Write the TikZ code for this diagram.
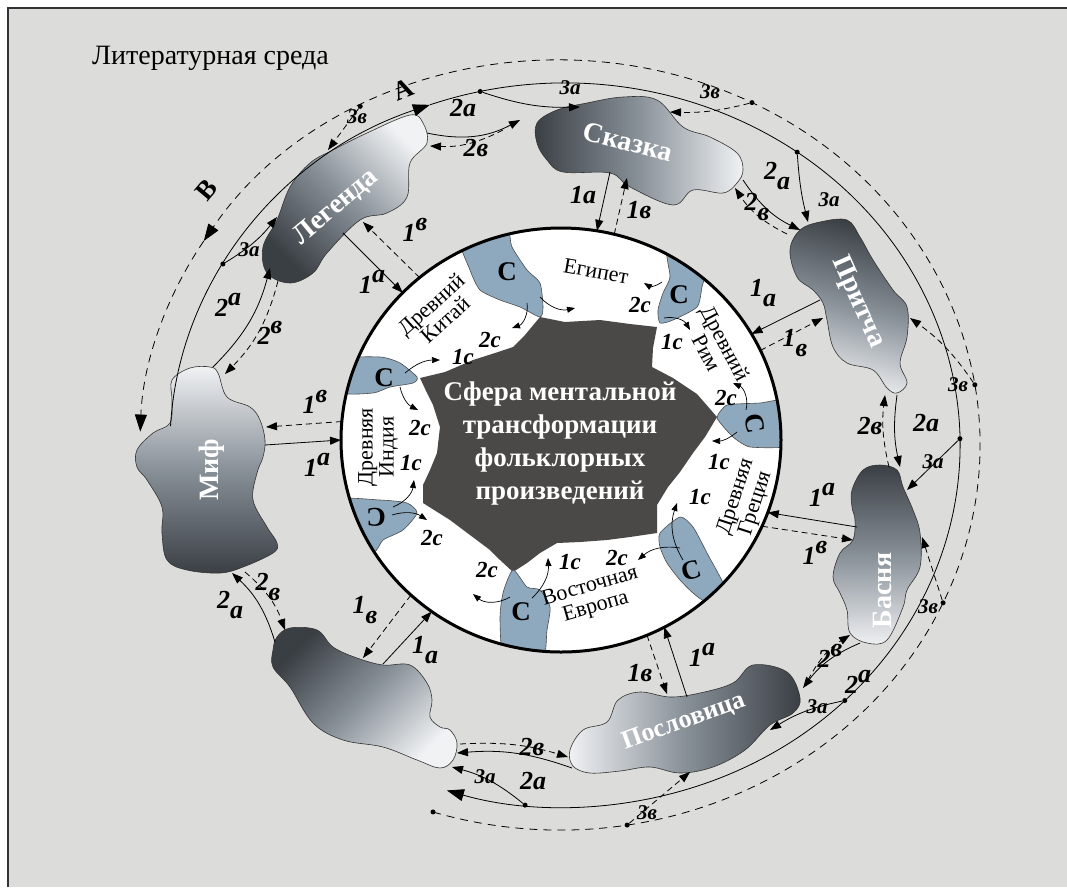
\documentclass[tikz,border=0pt]{standalone}
\usepackage{fontspec}
\setmainfont{Liberation Serif}
\usetikzlibrary{arrows.meta, calc}
\definecolor{envG}{RGB}{220,220,218}
\definecolor{cellB}{RGB}{142,168,190}
\definecolor{coreD}{RGB}{74,73,72}
\definecolor{blobD}{RGB}{58,63,68}
\definecolor{blobM}{RGB}{136,144,152}
\definecolor{blobL}{RGB}{240,242,244}
\newcommand{\lup}[2]{#1\raisebox{0.45em}{#2}}
\newcommand{\ldn}[2]{#1\raisebox{-0.4em}{#2}}
\tikzset{
  sol/.style={line width=0.8pt, -{Triangle[length=11pt,width=8pt]}},
  dsh/.style={sol, dash pattern=on 6pt off 4pt},
  big/.style={line width=0.8pt, -{Triangle[length=17pt,width=12pt]}},
  carrow/.style={line width=0.7pt, -{Triangle[length=8pt,width=6pt]}},
  lbl/.style={font=\fontsize{26}{26}\selectfont\bfseries\itshape, inner sep=0pt},
  sml/.style={font=\fontsize{21}{21}\selectfont\bfseries\itshape, inner sep=0pt},
  clbl/.style={font=\fontsize{23}{23}\selectfont\bfseries\itshape, inner sep=0pt},
  blobtxt/.style={font=\fontsize{28}{28}\selectfont\bfseries, text=white, inner sep=0pt},
  ringtxt/.style={font=\fontsize{22}{21}\selectfont, align=center, inner sep=0pt},
  ctxt/.style={font=\fontsize{27}{27}\selectfont\bfseries, inner sep=0pt},
  cell/.style={fill=cellB, draw=black!70, line width=0.6pt},
  blob/.style={draw=black!80, line width=0.6pt},
  dotp/.style={circle, fill=black, inner sep=0pt, minimum size=5pt},
}

\begin{document}
\begin{tikzpicture}[x=1pt, y=-1pt]
% page: the literary environment
\useasboundingbox (0,0) rectangle (1067,887);
\fill[envG] (8,8) rectangle (1067,887);
\draw[line width=1.6pt, black!80] (8,887) -- (8,8) -- (1067,8);
\node[font=\fontsize{28}{28}\selectfont, anchor=west, inner sep=0pt] (env) at (92,58) {Литературная среда};

% the sphere: white ring, cells C and the dark core
\begin{scope}
\clip (561,440) ellipse [x radius=220, y radius=212];
\fill[white] (561,440) ellipse [x radius=220, y radius=212];
\fill[coreD] (540,317) -- (565,322) -- (600,320) -- (630,324) -- (657,327) -- (653,348) -- (652,367)
  -- (673,378) -- (697,394) -- (717,417) -- (705,437) -- (693,453) -- (680,472) -- (668,487) -- (657,505)
  -- (657,533) -- (630,537) -- (607,540) -- (580,542) -- (557,543) -- (540,553) -- (527,563) -- (513,572)
  -- (500,560) -- (490,550) -- (470,535) -- (450,520) -- (423,503) -- (423,485) -- (430,470) -- (437,453)
  -- (440,427) -- (433,405) -- (427,393) -- (420,378) -- (445,372) -- (473,360) -- (495,353) -- (513,347)
  -- (525,335) -- cycle;
\filldraw[cell] plot[smooth cycle, tension=0.4] coordinates {(460,236) (505,226) (512,247) (527,270) (540,283) (543,307) (540,317) (520,307) (500,300) (480,290) (470,270)};
\filldraw[cell] plot[smooth cycle, tension=0.4] coordinates {(668,248) (708,255) (702,287) (697,307) (673,320) (660,323) (658,310) (663,293) (670,277)};
\filldraw[cell] plot[smooth cycle, tension=0.3] coordinates {(717,418) (727,405) (760,403) (792,400) (792,445) (750,447) (733,437)};
\filldraw[cell] plot[smooth cycle, tension=0.4] coordinates {(660,533) (680,517) (693,527) (707,553) (728,595) (707,602) (693,593) (680,580) (667,563) (660,547)};
\filldraw[cell] plot[smooth cycle, tension=0.4] coordinates {(513,570) (527,587) (540,590) (550,607) (547,630) (542,662) (505,662) (500,620) (503,593)};
\filldraw[cell] plot[smooth cycle, tension=0.4] coordinates {(336,500) (380,500) (407,503) (417,513) (403,530) (383,540) (373,552) (340,535)};
\filldraw[cell] plot[smooth cycle, tension=0.4] coordinates {(340,360) (380,357) (400,363) (417,377) (413,383) (390,387) (373,393) (340,392)};
\end{scope}
\draw[line width=3pt] (561,440) ellipse [x radius=220, y radius=212];

% cell letters and regions of the ring
\node[ctxt] (c1) at (507,272) {C};
\node[ctxt] (c2) at (679,295) {C};
\node[ctxt, rotate=-80] (c3) at (755,424) {C};
\node[ctxt, rotate=15] (c4) at (691,570) {C};
\node[ctxt] (c5) at (521,612) {C};
\node[ctxt, rotate=180] (c6) at (376,517) {C};
\node[ctxt] (c7) at (384,378) {C};
\node[ringtxt, rotate=-10] (egy) at (596,271) {Египет};
\node[ringtxt, rotate=42] (chn) at (438,312) {Древний\\Китай};
\node[ringtxt, rotate=-62] (rim) at (716,348) {Древний\\Рим};
\node[ringtxt, rotate=72] (grc) at (746,500) {Древняя\\Греция};
\node[ringtxt, rotate=16] (eur) at (593,597) {Восточная\\Европа};
\node[ringtxt, rotate=90] (ind) at (378,447) {Древняя\\Индия};
\node[ctxt, text=white, align=center, font=\fontsize{27}{33}\selectfont\bfseries] (core) at (560,443)
  {Сфера ментальной\\трансформации\\фольклорных\\произведений};

% small exchange arrows 1c / 2c inside the ring
\draw[carrow] (540,297) to[bend right=30] (575,308);
\draw[carrow] (527,303) to[bend left=40] (512,328);
\node[clbl] (k2) at (490,340) {2с};
\draw[carrow] (405,373) to[bend left=20] (440,360);
\node[clbl] (k3) at (463,357) {1с};
\draw[carrow] (400,387) to[bend right=25] (418,410);
\node[clbl] (k4) at (420,428) {2с};
\draw[carrow] (393,507) to[bend right=30] (414,480);
\node[clbl] (k5) at (411,463) {1с};
\draw[carrow] (392,515) to[bend left=25] (427,520);
\node[clbl] (k6) at (432,538) {2с};
\draw[carrow] (532,598) to[bend right=25] (548,558);
\node[clbl] (k7) at (570,562) {1с};
\draw[carrow] (510,597) to[bend left=35] (473,594);
\node[clbl] (k8) at (487,570) {2с};
\draw[carrow] (683,560) to[bend left=25] (677,503);
\node[clbl] (k9) at (700,497) {1с};
\draw[carrow] (680,548) to[bend right=25] (638,560);
\node[clbl] (k10) at (617,558) {2с};
\draw[carrow] (737,432) to[bend left=20] (712,441);
\node[clbl] (k11) at (719,462) {1с};
\draw[carrow] (746,410) to[bend right=40] (733,383);
\node[clbl] (k12) at (726,398) {2с};
\draw[carrow] (664,318) to[bend left=35] (690,330);
\node[clbl] (k13) at (672,342) {1с};
\draw[carrow] (662,282) to[bend left=35] (644,283);
\node[clbl] (k14) at (640,305) {2с};

% folklore genres
\shadedraw[blob, top color=blobL, bottom color=blobD, middle color=blobM, shading angle=-45]
  plot[smooth cycle, tension=0.6] coordinates {(333,150) (367,133) (410,115) (423,123) (427,143) (410,163) (407,197) (387,213) (360,220) (327,253) (313,273) (290,283) (267,273) (263,247) (277,220) (290,187) (310,163)};
\shadedraw[blob, left color=blobD, right color=blobL, middle color=blobM]
  plot[smooth cycle, tension=0.6] coordinates {(537,123) (557,110) (587,103) (623,97) (657,100) (683,127) (710,137) (737,153) (743,170) (737,183) (723,193) (693,190) (673,205) (630,187) (610,173) (563,172) (547,160) (537,143)};
\shadedraw[blob, top color=blobD, bottom color=blobL, middle color=blobM, shading angle=-15]
  plot[smooth cycle, tension=0.6] coordinates {(790,250) (800,230) (820,222) (847,220) (860,237) (873,260) (893,290) (907,307) (907,337) (900,363) (907,383) (897,393) (887,388) (873,370) (847,363) (833,347) (827,320) (823,303) (813,290) (797,277)};
\shadedraw[blob, top color=blobD, bottom color=blobL, middle color=blobM]
  plot[smooth cycle, tension=0.6] coordinates {(852,490) (863,470) (880,465) (897,470) (903,487) (913,510) (920,533) (920,567) (907,590) (903,607) (887,640) (867,643) (850,633) (847,610) (840,593) (833,577) (840,553) (853,540) (855,520) (852,507)};
\shadedraw[blob, left color=blobL, right color=blobD, middle color=blobM]
  plot[smooth cycle, tension=0.6] coordinates {(570,750) (583,730) (607,722) (618,700) (640,692) (670,697) (700,693) (733,683) (753,665) (787,672) (800,698) (793,713) (770,725) (745,750) (713,767) (680,773) (650,767) (620,771) (590,773) (573,766)};
\shadedraw[blob, top color=blobD, bottom color=blobL, middle color=blobM, shading angle=45]
  plot[smooth cycle, tension=0.6] coordinates {(277,637) (290,628) (317,630) (333,647) (357,658) (383,665) (410,665) (427,683) (432,700) (430,717) (440,727) (450,730) (457,743) (453,760) (440,768) (417,760) (383,747) (343,740) (313,723) (290,687) (273,667) (273,650)};
\shadedraw[blob, top color=blobL, bottom color=blobD, middle color=blobM]
  plot[smooth cycle, tension=0.6] coordinates {(172,380) (190,368) (210,367) (218,373) (227,397) (250,407) (260,420) (265,440) (263,457) (257,473) (253,500) (267,527) (277,543) (273,553) (243,567) (220,573) (187,570) (167,560) (162,533) (162,507) (147,480) (137,467) (137,450) (153,433) (170,423) (172,400)};
\node[blobtxt, rotate=40] (legT) at (336,207) {Легенда};
\node[blobtxt, rotate=-14] (skzT) at (628,142) {Сказка};
\node[blobtxt, rotate=-66] (prtT) at (858,302) {Притча};
\node[blobtxt, rotate=90] (basT) at (882,590) {Басня};
\node[blobtxt, rotate=20, font=\fontsize{26}{26}\selectfont\bfseries] (posT) at (684,722) {Пословица};
\node[blobtxt, rotate=90] (mifT) at (212,470) {Миф};

% outer cycles: A (solid) and B (dashed)
\draw[big] ([shift={(565,445)}]-177:395 and 362) arc[start angle=-177, end angle=-110, x radius=395, y radius=362] coordinate (arcA);
\draw[big] (arcA) arc[start angle=-110, end angle=107.4, x radius=395, y radius=362];
\draw[big, dash pattern=on 8pt off 6pt] ([shift={(560,445)}]107.6:420 and 385) arc[start angle=107.6, end angle=-148, x radius=420, y radius=385] coordinate (arcB);
\draw[big, dash pattern=on 8pt off 6pt] (arcB) arc[start angle=-148, end angle=-178, x radius=420, y radius=385];
\node[font=\fontsize{27}{27}\selectfont\bfseries, rotate=22] (cycA) at (403,90) {А};
\node[font=\fontsize{27}{27}\selectfont\bfseries, rotate=50] (cycB) at (207,190) {В};

% dots where the 3a / 3в links leave the cycles
\node[dotp] (d3aL) at ([shift={(565,445)}]-150:395 and 362) {};
\node[dotp] (d3aS) at ([shift={(565,445)}]-102.4:395 and 362) {};
\node[dotp] (d3aP) at ([shift={(565,445)}]-54:395 and 362) {};
\node[dotp] (d3aB) at ([shift={(565,445)}]-1:395 and 362) {};
\node[dotp] (d3aPs) at ([shift={(565,445)}]44.9:395 and 362) {};
\node[dotp] (d3aN) at ([shift={(565,445)}]95.8:395 and 362) {};
\node[dotp] (dB0) at ([shift={(560,445)}]107.6:420 and 385) {};
\node[dotp] (d3vL) at ([shift={(560,445)}]-118.4:420 and 385) {};
\node[dotp] (d3vS) at ([shift={(560,445)}]-62.8:420 and 385) {};
\node[dotp] (d3vP) at ([shift={(560,445)}]-9:420 and 385) {};
\node[dotp] (d3vB) at ([shift={(560,445)}]24.2:420 and 385) {};
\node[dotp] (d3vPs) at ([shift={(560,445)}]80.8:420 and 385) {};

% link ends on the genres
\coordinate (leg1a) at (343,233); \coordinate (leg1v) at (363,222);
\coordinate (skz1a) at (610,172); \coordinate (skz1v) at (627,178);
\coordinate (prt1a) at (820,300); \coordinate (prt1v) at (823,318);
\coordinate (bas1a) at (857,527); \coordinate (bas1v) at (853,540);
\coordinate (pos1a) at (687,697); \coordinate (pos1v) at (667,694);
\coordinate (non1a) at (383,664); \coordinate (non1v) at (363,658);
\coordinate (mif1a) at (265,445); \coordinate (mif1v) at (266,427);
% link ends on the ring
\coordinate (rg1aL) at ([shift={(561,440)}]-136:220 and 212); \coordinate (rg1vL) at ([shift={(561,440)}]-130:220 and 212);
\coordinate (rg1aS) at ([shift={(561,440)}]-80.6:220 and 212); \coordinate (rg1vS) at ([shift={(561,440)}]-76:220 and 212);
\coordinate (rg1aP) at ([shift={(561,440)}]-30:220 and 212); \coordinate (rg1vP) at ([shift={(561,440)}]-25:220 and 212);
\coordinate (rg1aB) at ([shift={(561,440)}]20:220 and 212); \coordinate (rg1vB) at ([shift={(561,440)}]24:220 and 212);
\coordinate (rg1aPs) at ([shift={(561,440)}]62:220 and 212); \coordinate (rg1vPs) at ([shift={(561,440)}]67:220 and 212);
\coordinate (rg1aN) at ([shift={(561,440)}]126:220 and 212); \coordinate (rg1vN) at ([shift={(561,440)}]133:220 and 212);
\coordinate (rg1aM) at ([shift={(561,440)}]180:220 and 212); \coordinate (rg1vM) at ([shift={(561,440)}]-175:220 and 212);

% 1a / 1в: genre and sphere
\draw[sol] (leg1a) -- (rg1aL);  \draw[dsh] (rg1vL) -- (leg1v);
\draw[sol] (skz1a) -- (rg1aS);  \draw[dsh] (rg1vS) -- (skz1v);
\draw[sol] (prt1a) -- (rg1aP);  \draw[dsh] (rg1vP) -- (prt1v);
\draw[sol] (bas1a) -- (rg1aB);  \draw[dsh] (rg1vB) -- (bas1v);
\draw[sol] (pos1a) -- (rg1aPs); \draw[dsh] (rg1vPs) -- (pos1v);
\draw[sol] (non1a) -- (rg1aN);  \draw[dsh] (rg1vN) -- (non1v);
\draw[sol] (mif1a) -- (rg1aM);  \draw[dsh] (rg1vM) -- (mif1v);
\node[lbl] (l1aL) at (372,282) {\lup{1}{а}};    \node[lbl] (l1vL) at (415,230) {\lup{1}{в}};
\node[lbl] (l1aS) at (583,195) {1а};            \node[lbl] (l1vS) at (639,210) {1в};
\node[lbl] (l1aP) at (763,293) {\ldn{1}{а}};    \node[lbl] (l1vP) at (795,343) {\ldn{1}{в}};
\node[lbl] (l1aB) at (822,495) {\lup{1}{а}};    \node[lbl] (l1vB) at (815,553) {\lup{1}{в}};
\node[lbl] (l1aPs) at (702,655) {\lup{1}{а}};   \node[lbl] (l1vPs) at (640,673) {1в};
\node[lbl] (l1vN) at (365,610) {\ldn{1}{в}};    \node[lbl] (l1aN) at (425,650) {\ldn{1}{а}};
\node[lbl] (l1vM) at (315,402) {\lup{1}{в}};    \node[lbl] (l1aM) at (317,465) {\lup{1}{а}};

% 2a / 2в: neighbouring genres
\coordinate (leg2a) at (427,133); \coordinate (skz2a) at (520,120);
\coordinate (skz2v) at (503,130); \coordinate (leg2v) at (430,146);
\draw[sol] (leg2a) to[bend right=20] (skz2a);
\draw[dsh] (skz2v) to[bend left=15] (leg2v);
\coordinate (skz2a') at (743,180); \coordinate (prt2a) at (800,230);
\coordinate (prt2v) at (787,234); \coordinate (skz2v') at (735,188);
\draw[sol] (skz2a') to[bend right=15] (prt2a);
\draw[dsh] (prt2v) to[bend left=15] (skz2v');
\coordinate (prt2a') at (897,395); \coordinate (bas2a) at (900,467);
\coordinate (bas2v) at (889,467); \coordinate (prt2v') at (885,395);
\draw[sol] (prt2a') to[bend right=10] (bas2a);
\draw[dsh] (bas2v) to[bend left=10] (prt2v');
\coordinate (bas2a') at (860,643); \coordinate (pos2a) at (803,688);
\coordinate (pos2v) at (808,680); \coordinate (bas2v') at (850,635);
\draw[sol] (bas2a') to[bend right=15] (pos2a);
\draw[dsh] (pos2v) to[bend left=15] (bas2v');
\coordinate (pos2a') at (572,768); \coordinate (non2a) at (457,753);
\coordinate (non2v) at (460,744); \coordinate (pos2v') at (568,757);
\draw[sol] (pos2a') to[bend right=12] (non2a);
\draw[dsh] (non2v) to[bend left=10] (pos2v');
\coordinate (non2a') at (275,642); \coordinate (mif2a) at (232,573);
\coordinate (mif2v) at (245,572); \coordinate (non2v') at (285,630);
\draw[sol] (non2a') to[bend right=15] (mif2a);
\draw[dsh] (mif2v) to[bend left=15] (non2v');
\coordinate (mif2a') at (213,367); \coordinate (leg2a') at (270,268);
\coordinate (leg2v') at (278,281); \coordinate (mif2v') at (225,374);
\draw[sol] (mif2a') to[bend right=15] (leg2a');
\draw[dsh] (leg2v') to[bend left=15] (mif2v');
\node[lbl] (l2aLS) at (463,108) {2а};            \node[lbl] (l2vLS) at (476,148) {2в};
\node[lbl] (l2aSP) at (777,176) {\ldn{2}{а}};    \node[lbl] (l2vSP) at (757,207) {\ldn{2}{в}};
\node[lbl] (l2vPB) at (870,426) {2в};            \node[lbl] (l2aPB) at (926,423) {2а};
\node[lbl] (l2vBPs) at (830,656) {\lup{2}{в}};   \node[lbl] (l2aBPs) at (858,682) {\lup{2}{а}};
\node[lbl] (l2vPsN) at (532,747) {2в};           \node[lbl] (l2aPsN) at (533,781) {2а};
\node[lbl] (l2aNM) at (230,605) {\ldn{2}{а}};    \node[lbl] (l2vNM) at (268,587) {\ldn{2}{в}};
\node[lbl] (l2aML) at (228,305) {\lup{2}{а}};    \node[lbl] (l2vML) at (270,333) {\lup{2}{в}};

% 3a / 3в: from the cycles into the genres
\coordinate (leg3a) at (277,217); \coordinate (leg3v) at (328,150);
\coordinate (skz3a) at (580,107); \coordinate (skz3v) at (670,112);
\coordinate (prt3a) at (808,222); \coordinate (prt3v) at (910,318);
\coordinate (bas3a) at (907,490); \coordinate (bas3v) at (922,537);
\coordinate (pos3a) at (770,730); \coordinate (pos3v) at (690,772);
\coordinate (non3a) at (452,767);
\draw[sol] (d3aL) to[bend right=10] (leg3a);
\draw[sol] (d3aS) to[bend right=10] (skz3a);
\draw[sol] (d3aP) to[bend right=5] (prt3a);
\draw[sol] (d3aB) -- (bas3a);
\draw[sol] (d3aPs) to[bend right=10] (pos3a);
\draw[sol] (d3aN) to[bend right=12] (non3a);
\draw[dsh] (d3vL) -- (leg3v);
\draw[dsh] (d3vS) to[bend left=8] (skz3v);
\draw[dsh] (d3vP) to[bend right=10] (prt3v);
\draw[dsh] (d3vB) -- (bas3v);
\draw[dsh] (d3vPs) -- (pos3v);
\node[sml] (l3aL) at (249,250) {3а};   \node[sml] (l3vL) at (357,117) {3в};
\node[sml] (l3aS) at (570,88) {3а};    \node[sml] (l3vS) at (710,92) {3в};
\node[sml] (l3aP) at (829,200) {3а};   \node[sml] (l3vP) at (958,385) {3в};
\node[sml] (l3aB) at (933,462) {3а};   \node[sml] (l3vB) at (928,607) {3в};
\node[sml] (l3aPs) at (817,707) {3а};  \node[sml] (l3vPs) at (647,813) {3в};
\node[sml] (l3aN) at (485,777) {3а};
\end{tikzpicture}
\end{document}
